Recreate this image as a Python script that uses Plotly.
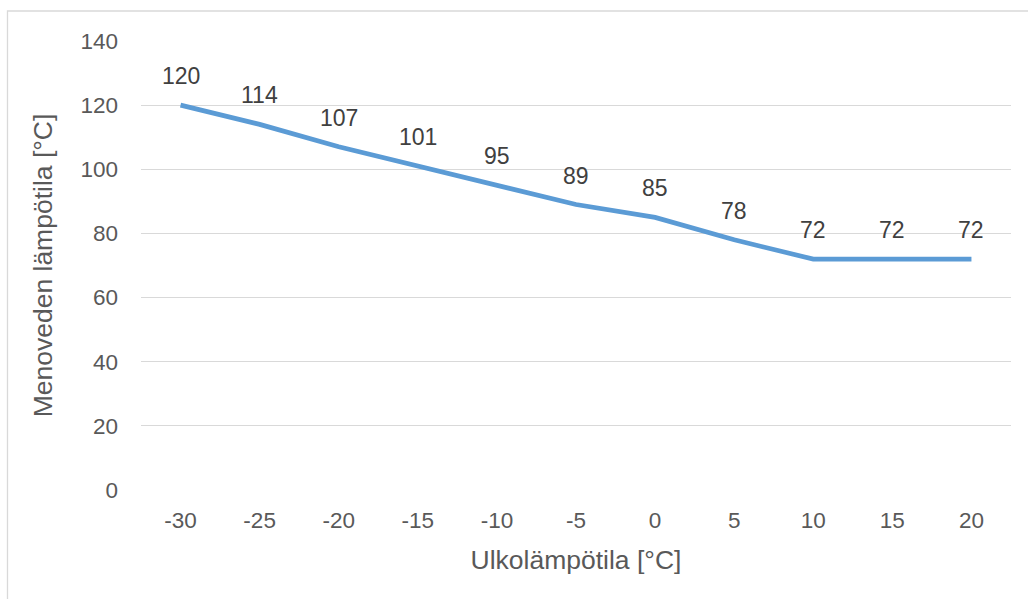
import plotly.graph_objects as go

outdoor_temp = [-30, -25, -20, -15, -10, -5, 0, 5, 10, 15, 20]
x_labels = ["-30", "-25", "-20", "-15", "-10", "-5", "0", "5", "10", "15", "20"]
supply_temp = [120, 114, 107, 101, 95, 89, 85, 78, 72, 72, 72]
y_ticks = [0, 20, 40, 60, 80, 100, 120, 140]

FONT = "Liberation Sans, Arial, sans-serif"
TXT = "#595959"
LINE = "#5B9BD5"
GRID = "#D9D9D9"

fig = go.Figure()
fig.add_trace(go.Scatter(
    x=outdoor_temp, y=supply_temp, mode="lines",
    line=dict(color=LINE, width=4.7), hoverinfo="skip", showlegend=False,
))

for xv, yv in zip(outdoor_temp, supply_temp):
    fig.add_annotation(x=xv, y=yv, text=str(yv), showarrow=False,
                       yshift=29, yanchor="middle", xanchor="center",
                       font=dict(family=FONT, size=23, color="#404040"))

fig.update_layout(
    width=1028, height=599,
    margin=dict(l=141, r=17, t=41, b=109, autoexpand=False),
    paper_bgcolor="white", plot_bgcolor="white",
    font=dict(family=FONT, size=22, color=TXT),
    xaxis=dict(
        range=[-32.5, 22.5], tickvals=outdoor_temp, ticktext=x_labels,
        showgrid=False, zeroline=False, showline=False,
        ticks="", ticklabelstandoff=14, automargin=False,
        tickfont=dict(family=FONT, size=22.5, color=TXT),
        title=dict(text="Ulkolämpötila [°C]", standoff=18,
                   font=dict(family=FONT, size=26.5, color=TXT)),
    ),
    yaxis=dict(
        range=[0, 140], tickvals=y_ticks, showgrid=True, gridcolor=GRID,
        gridwidth=1.3, zeroline=False, showline=False, ticks="",
        ticklabelstandoff=22, automargin=False,
        tickfont=dict(family=FONT, size=22.5, color=TXT),
        title=dict(text="Menoveden lämpötila [°C]", standoff=20,
                   font=dict(family=FONT, size=26.5, color=TXT)),
    ),
)

fig.add_shape(type="rect", xref="paper", yref="paper",
              x0=(7.5 - 141) / 870, x1=1.2, y0=-0.5, y1=1 + (41 - 11) / 449,
              line=dict(color="#D9D9D9", width=1.3), fillcolor="rgba(0,0,0,0)",
              layer="below")

fig.write_html("out.html")
